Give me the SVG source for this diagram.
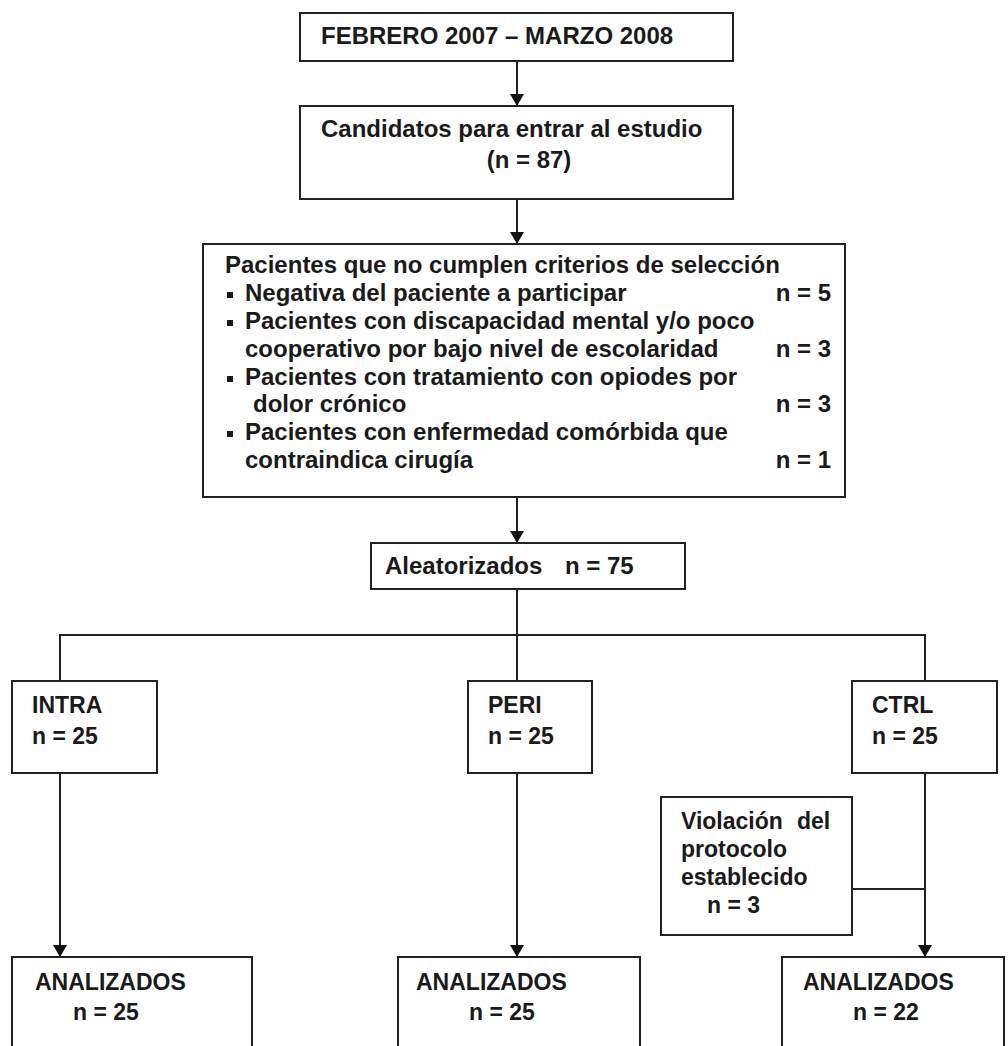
<svg xmlns="http://www.w3.org/2000/svg" width="1008" height="1046" viewBox="0 0 1008 1046">
<style>
.box{fill:#fff;stroke:#222;stroke-width:2}
.ln{fill:none;stroke:#222;stroke-width:2}
text{font-family:"Liberation Sans",Arial,sans-serif;font-weight:bold;fill:#1a1a1a}
.t24{font-size:24px}
.t23{font-size:23px}
.end{text-anchor:end}
.bul{fill:#1a1a1a}
</style>
<defs>
<marker id="ah" viewBox="0 0 12 14" refX="12" refY="7" markerWidth="12" markerHeight="14" markerUnits="userSpaceOnUse" orient="auto">
<path d="M0,0 L12,7 L0,14 z" fill="#111"/>
</marker>
</defs>
<rect width="1008" height="1046" fill="#fff"/>
<g id="connectors">
<line class="ln" x1="517" y1="61" x2="517" y2="106" marker-end="url(#ah)"/>
<line class="ln" x1="517" y1="199" x2="517" y2="244" marker-end="url(#ah)"/>
<line class="ln" x1="517" y1="497" x2="517" y2="543" marker-end="url(#ah)"/>
<polyline class="ln" points="517,589 517,635"/>
<polyline class="ln" points="60,681 60,635 925,635 925,681"/>
<line class="ln" x1="517" y1="635" x2="517" y2="681"/>
<line class="ln" x1="60" y1="773" x2="60" y2="957" marker-end="url(#ah)"/>
<line class="ln" x1="517" y1="773" x2="517" y2="957" marker-end="url(#ah)"/>
<line class="ln" x1="925" y1="773" x2="925" y2="957" marker-end="url(#ah)"/>
<line class="ln" x1="852" y1="889" x2="925" y2="889"/>
</g>
<g id="n-periodo">
<rect class="box" x="300" y="13" width="433" height="48"/>
<text class="t24" x="321" y="44">FEBRERO 2007 – MARZO 2008</text>
</g>
<g id="n-candidatos">
<rect class="box" x="300" y="106" width="433" height="93"/>
<text class="t24" x="321" y="137">Candidatos para entrar al estudio</text>
<text class="t24" x="529" y="168" text-anchor="middle">(n = 87)</text>
</g>
<g id="n-exclusion">
<rect class="box" x="203" y="244" width="642" height="253"/>
<text class="t24" x="225" y="273">Pacientes que no cumplen criterios de selección</text>
<rect class="bul" x="227" y="292" width="6" height="6"/>
<text class="t24" x="245" y="301">Negativa del paciente a participar</text>
<text class="t24 end" x="831" y="301">n = 5</text>
<rect class="bul" x="227" y="320" width="6" height="6"/>
<text class="t24" x="245" y="329">Pacientes con discapacidad mental y/o poco</text>
<text class="t24" x="245" y="357">cooperativo por bajo nivel de escolaridad</text>
<text class="t24 end" x="831" y="357">n = 3</text>
<rect class="bul" x="227" y="376" width="6" height="6"/>
<text class="t24" x="245" y="385">Pacientes con tratamiento con opiodes por</text>
<text class="t24" x="253" y="412">dolor crónico</text>
<text class="t24 end" x="831" y="412">n = 3</text>
<rect class="bul" x="227" y="431" width="6" height="6"/>
<text class="t24" x="245" y="440">Pacientes con enfermedad comórbida que</text>
<text class="t24" x="245" y="468">contraindica cirugía</text>
<text class="t24 end" x="831" y="468">n = 1</text>
</g>
<g id="n-aleatorizados">
<rect class="box" x="371" y="543" width="314" height="46"/>
<text class="t24" x="385" y="574">Aleatorizados<tspan x="565">n = 75</tspan></text>
</g>
<g id="n-intra">
<rect class="box" x="12" y="681" width="145" height="92"/>
<text class="t23" x="32" y="713">INTRA</text>
<text class="t23" x="32" y="744">n = 25</text>
</g>
<g id="n-peri">
<rect class="box" x="468" y="681" width="124" height="92"/>
<text class="t23" x="488" y="713">PERI</text>
<text class="t23" x="488" y="744">n = 25</text>
</g>
<g id="n-ctrl">
<rect class="box" x="852" y="681" width="145" height="92"/>
<text class="t23" x="872" y="713">CTRL</text>
<text class="t23" x="872" y="744">n = 25</text>
</g>
<g id="n-violacion">
<rect class="box" x="661" y="797" width="191" height="138"/>
<text class="t23" x="681" y="829">Violación<tspan x="797">del</tspan></text>
<text class="t23" x="681" y="857">protocolo</text>
<text class="t23" x="681" y="885">establecido</text>
<text class="t23" x="707" y="913">n = 3</text>
</g>
<g id="n-analizados-intra">
<rect class="box" x="12" y="957" width="240" height="110"/>
<text class="t23" x="35" y="990">ANALIZADOS</text>
<text class="t23" x="73" y="1020">n = 25</text>
</g>
<g id="n-analizados-peri">
<rect class="box" x="398" y="957" width="242" height="110"/>
<text class="t23" x="416" y="990">ANALIZADOS</text>
<text class="t23" x="469" y="1020">n = 25</text>
</g>
<g id="n-analizados-ctrl">
<rect class="box" x="782" y="957" width="222" height="110"/>
<text class="t23" x="803" y="990">ANALIZADOS</text>
<text class="t23" x="853" y="1020">n = 22</text>
</g>
</svg>
